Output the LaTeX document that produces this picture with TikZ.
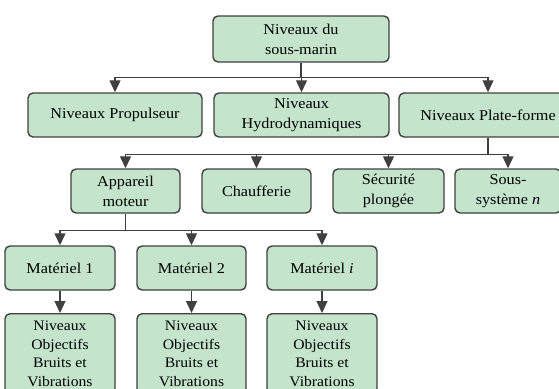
\documentclass[tikz,border=0pt]{standalone}
\usepackage{fontspec}
\setmainfont{Liberation Serif}[FakeStretch=1.08]
\usetikzlibrary{positioning,arrows.meta}

\definecolor{boxfill}{RGB}{196,228,204}
\definecolor{boxline}{RGB}{64,64,64}

\tikzset{
  box/.style={draw=boxline, fill=boxfill, line width=1.4pt, rounded corners=5pt,
    align=center, inner sep=2pt, font=\fontsize{15}{20}\selectfont},
  objbox/.style={box, anchor=north, inner sep=0.5pt, minimum height=80pt,
    font=\fontsize{14.5}{18.5}\selectfont},
  arr/.style={draw=boxline, line width=1.2pt,
    -{Triangle[width=11pt,length=12pt]}}
}

\begin{document}
\begin{tikzpicture}[x=1pt,y=-1pt]
  \clip (0,0) rectangle (559,388);
  \fill[white] (0,0) rectangle (559,388);

  \node[box, minimum width=176pt, minimum height=46pt] (sousmarin) at (301,39) {Niveaux du\\sous-marin};

  \node[box, minimum width=174pt, minimum height=44pt] (propulseur) at (115,115) {Niveaux Propulseur};
  \node[box, minimum width=175pt, minimum height=44pt] (hydro) at (301.5,115) {Niveaux\\Hydrodynamiques};
  \node[box, minimum width=178pt, minimum height=44pt] (plateforme) at (488,115) {Niveaux Plate-forme};

  \node[box, minimum width=109pt, minimum height=44pt] (appareil) at (125.5,191) {Appareil\\moteur};
  \node[box, minimum width=109pt, minimum height=44pt] (chaufferie) at (256.5,191) {Chaufferie};
  \node[box, minimum width=111pt, minimum height=44pt] (securite) at (388.5,191) {Sécurité\\plongée};
  \node[box, minimum width=106pt, minimum height=44pt] (soussys) at (508,191) {Sous-\\système \textit{n}};

  \node[box, minimum width=110pt, minimum height=44pt] (mat1) at (60,268) {Matériel 1};
  \node[box, minimum width=109pt, minimum height=44pt] (mat2) at (191.5,268) {Matériel 2};
  \node[box, minimum width=110pt, minimum height=44pt] (mati) at (322,268) {Matériel \textit{i}};

  \node[objbox, minimum width=110pt] (obj1) at (60,313) {Niveaux\\Objectifs\\Bruits et\\Vibrations};
  \node[objbox, minimum width=109pt] (obj2) at (191.5,313) {Niveaux\\Objectifs\\Bruits et\\Vibrations};
  \node[objbox, minimum width=110pt] (obji) at (322,313) {Niveaux\\Objectifs\\Bruits et\\Vibrations};

  \foreach \n in {propulseur,hydro,plateforme}
    \draw[arr] (sousmarin.south) -- ++(0,15) -| (\n.north);
  \foreach \n in {appareil,chaufferie,securite,soussys}
    \draw[arr] (plateforme.south) -- ++(0,17) -| (\n.north);
  \foreach \n in {mat1,mat2,mati}
    \draw[arr] (appareil.south) -- ++(0,17) -| (\n.north);
  \draw[arr] (mat1) -- (obj1);
  \draw[arr] (mat2) -- (obj2);
  \draw[arr] (mati) -- (obji);
\end{tikzpicture}
\end{document}
